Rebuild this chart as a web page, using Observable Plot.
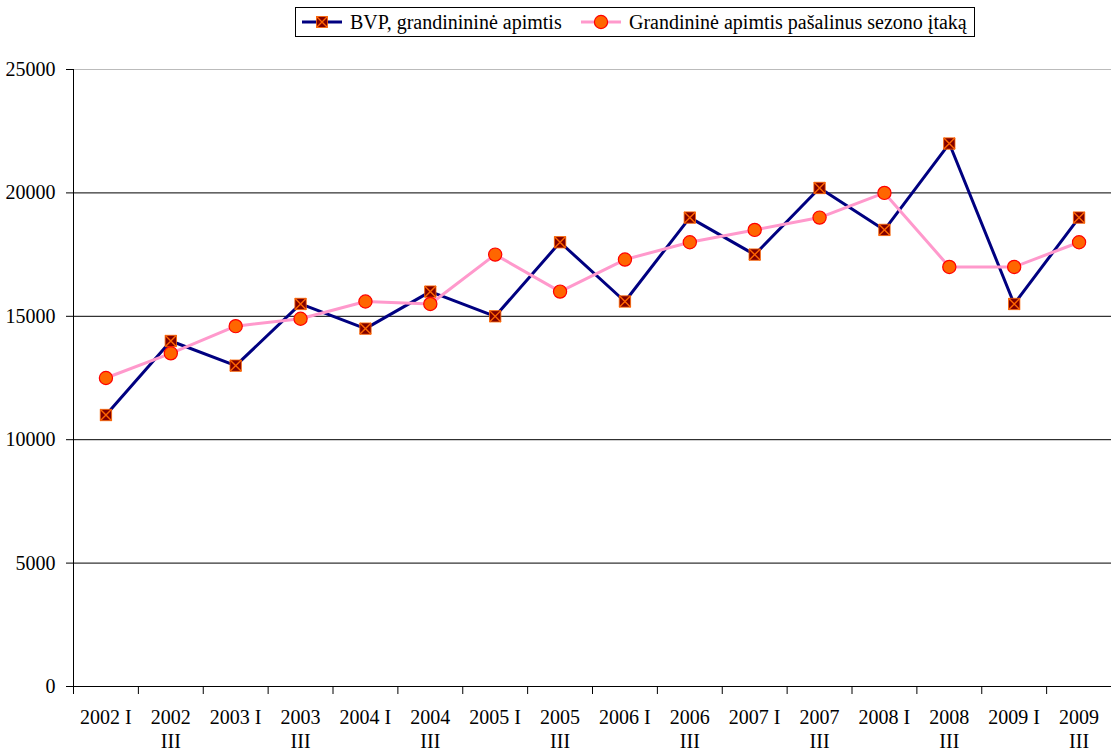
<!DOCTYPE html>
<html>
<head>
<meta charset="utf-8">
<script src="https://cdn.jsdelivr.net/npm/d3@7"></script>
<script src="https://cdn.jsdelivr.net/npm/@observablehq/plot@0.6"></script>
<style>
  body { margin: 0; background: #fff; font-family: 'Liberation Serif', serif; }
  #wrap { position: relative; width: 1111px; height: 753px; }
  #legend { position: absolute; left: 295px; top: 7px; width: 678px; height: 28px; border: 1px solid #000; background: #fff; font-family: 'Liberation Serif', serif; font-size: 20px; color: #000; }
  #legend .item { position: absolute; top: 0; height: 28px; display: flex; align-items: center; white-space: nowrap; }
  #legend svg { display: block; margin-right: 6px; }
</style>
</head>
<body>
<div id="wrap">
  <div id="chart"></div>
  <div id="legend"></div>
</div>
<script>
const categories = ["2002 I","2002\nIII","2003 I","2003\nIII","2004 I","2004\nIII","2005 I","2005\nIII","2006 I","2006\nIII","2007 I","2007\nIII","2008 I","2008\nIII","2009 I","2009\nIII"];
const bvp = [11000,14000,13000,15500,14500,16000,15000,18000,15600,19000,17500,20200,18500,22000,15500,19000];
const seasonal = [12500,13500,14600,14900,15600,15500,17500,16000,17300,18000,18500,19000,20000,17000,17000,18000];
const seriesNames = ["BVP, grandinininė apimtis", "Grandininė apimtis pašalinus sezono įtaką"];
const yTicks = [0,5000,10000,15000,20000,25000];

const navy = "#000080", pink = "#FF99CC", maroon = "#800000", orange = "#FF6600", red = "#FF0000";

const rowsA = categories.map((c, i) => ({i, pos: i + 0.5, label: c, value: bvp[i]}));
const rowsB = categories.map((c, i) => ({i, pos: i + 0.5, label: c, value: seasonal[i]}));

const crossSymbol = {
  draw(ctx, size) {
    const s = Math.sqrt(size) / 2;
    ctx.moveTo(-s, -s); ctx.lineTo(s, s);
    ctx.moveTo(s, -s); ctx.lineTo(-s, s);
  }
};

const chart = Plot.plot({
  width: 1111,
  height: 753,
  marginLeft: 73,
  marginRight: 0,
  marginTop: 69,
  marginBottom: 67,
  style: {fontFamily: "'Liberation Serif', serif", fontSize: "20px", color: "#000", background: "#fff"},
  x: {type: "linear", domain: [0, categories.length]},
  y: {domain: [0, 25000]},
  marks: [
    Plot.ruleY(yTicks.filter(d => d > 0 && d < 25000), {stroke: "#000", strokeWidth: 1}),
    Plot.ruleY([25000], {stroke: "#bbb", strokeWidth: 1}),
    Plot.ruleY([0], {stroke: "#000", strokeWidth: 1}),
    Plot.ruleX([0], {y1: 0, y2: 25000, stroke: "#000", strokeWidth: 1}),
    Plot.axisY({ticks: yTicks, tickSize: 7, tickPadding: 11, tickFormat: d => String(d), label: null, stroke: "#000"}),
    Plot.axisX({ticks: d3.range(0, categories.length + 1), tickSize: 8, tickFormat: () => "", label: null, stroke: "#000"}),
    Plot.text(rowsA, {x: "pos", y: () => 0, text: "label", dy: 20, lineAnchor: "top", lineHeight: 1.2, fill: "#000"}),
    Plot.line(rowsA, {x: "pos", y: "value", stroke: navy, strokeWidth: 3, strokeLinejoin: "miter"}),
    Plot.line(rowsB, {x: "pos", y: "value", stroke: pink, strokeWidth: 3}),
    Plot.dot(rowsA, {x: "pos", y: "value", symbol: "square", r: 6.4, fill: maroon, stroke: orange, strokeWidth: 0.8}),
    Plot.dot(rowsA, {x: "pos", y: "value", symbol: crossSymbol, r: 6.4, fill: "none", stroke: orange, strokeWidth: 1.4}),
    Plot.dot(rowsB, {x: "pos", y: "value", r: 6.6, fill: orange, stroke: red, strokeWidth: 1.2})
  ]
});
document.getElementById("chart").appendChild(chart);

// legend
const legend = document.getElementById("legend");
function sample(kind) {
  const w = 44, h = 20;
  const svg = d3.create("svg").attr("width", w).attr("height", h);
  if (kind === 0) {
    svg.append("line").attr("x1", 2).attr("x2", w - 2).attr("y1", h/2).attr("y2", h/2).attr("stroke", navy).attr("stroke-width", 3);
    svg.append("rect").attr("x", w/2 - 5.5).attr("y", h/2 - 5.5).attr("width", 11).attr("height", 11).attr("fill", maroon).attr("stroke", orange).attr("stroke-width", 0.8);
    svg.append("path").attr("d", `M${w/2-5.5},${h/2-5.5}L${w/2+5.5},${h/2+5.5}M${w/2+5.5},${h/2-5.5}L${w/2-5.5},${h/2+5.5}`).attr("stroke", orange).attr("stroke-width", 1.4);
  } else {
    svg.append("line").attr("x1", 2).attr("x2", w - 2).attr("y1", h/2).attr("y2", h/2).attr("stroke", pink).attr("stroke-width", 3);
    svg.append("circle").attr("cx", w/2).attr("cy", h/2).attr("r", 6.6).attr("fill", orange).attr("stroke", red).attr("stroke-width", 1.2);
  }
  return svg.node();
}
const lefts = [4, 283];
seriesNames.forEach((name, k) => {
  const item = document.createElement("div");
  item.className = "item";
  item.style.left = lefts[k] + "px";
  item.appendChild(sample(k));
  const span = document.createElement("span");
  span.textContent = name;
  item.appendChild(span);
  legend.appendChild(item);
});
</script>
</body>
</html>
